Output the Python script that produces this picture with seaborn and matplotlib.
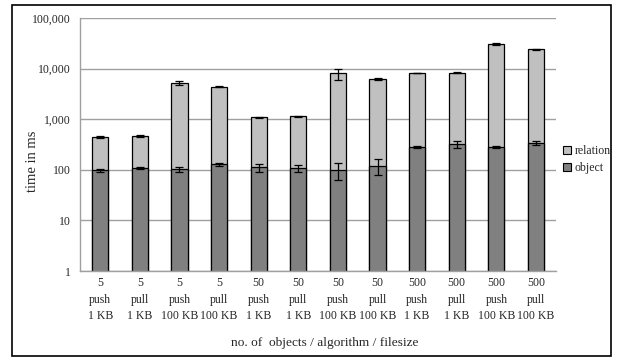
import numpy as np
import matplotlib
matplotlib.use("Agg")
import matplotlib.pyplot as plt
from matplotlib.patches import Patch, Rectangle
import seaborn as sns

counts = ["5", "5", "5", "5", "50", "50", "50", "50", "500", "500", "500", "500"]
algorithms = ["push", "pull"] * 6
filesizes = ["1 KB", "1 KB", "100 KB", "100 KB"] * 3
object_ms = [97, 110, 102, 128, 112, 108, 98, 120, 280, 320, 280, 340]
total_ms = [450, 470, 5200, 4400, 1080, 1130, 8000, 6200, 8200, 8300, 30000, 24000]
relation_ms = [t - o for t, o in zip(total_ms, object_ms)]
object_err = [8, 6, 10, 10, 20, 18, 35, 40, 12, 55, 15, 35]
total_err = [20, 20, 400, 80, 20, 30, 2000, 200, 60, 250, 1500, 500]

labels = [f"{c}\n{a}\n{f}" for c, a, f in zip(counts, algorithms, filesizes)]
x = np.arange(len(labels))

sns.set_style("white")
plt.rcParams["font.family"] = ["Liberation Serif", "DejaVu Serif"]

fig = plt.figure(figsize=(6.28, 3.58), dpi=100)
ax = fig.add_axes([0.128, 0.243, 0.757, 0.707])

light = "#c0c0c0"
dark = "#808080"

# stacked: draw totals first, then object part on top
sns.barplot(x=labels, y=[o + r for o, r in zip(object_ms, relation_ms)], color=light,
            edgecolor="black", linewidth=0.9, width=0.41, ax=ax, saturation=1)
sns.barplot(x=labels, y=object_ms, color=dark,
            edgecolor="black", linewidth=0.9, width=0.41, ax=ax, saturation=1)
ax.errorbar(x, total_ms, yerr=total_err, fmt="none", ecolor="black",
            elinewidth=0.9, capsize=3, capthick=0.9, zorder=5)
ax.errorbar(x, object_ms, yerr=object_err, fmt="none", ecolor="black",
            elinewidth=0.9, capsize=3, capthick=0.9, zorder=5)

ax.set_yscale("log")
ax.set_ylim(1, 100000)
ax.set_xlim(-0.5, len(labels) - 0.5)
ax.set_yticks([1, 10, 100, 1000, 10000, 100000])
ax.set_yticklabels(["1", "10", "100", "1,000", "10,000", "100,000"])
ax.yaxis.set_minor_locator(matplotlib.ticker.NullLocator())
ax.grid(axis="y", which="major", color="#a0a0a0", linewidth=1)
ax.set_axisbelow(True)

for side in ["top", "right"]:
    ax.spines[side].set_visible(False)
for side in ["left", "bottom"]:
    ax.spines[side].set_color("#a0a0a0")
    ax.spines[side].set_linewidth(1)

ax.set_xticks(x)
ax.set_xticklabels(labels, linespacing=1.55, fontsize=8.5)
ax.set_xticks(np.arange(-0.5, len(labels)), minor=True)
ax.tick_params(axis="x", which="major", length=0, pad=4)
ax.tick_params(axis="x", which="minor", length=35, color="#a0a0a0", width=1)
ax.tick_params(axis="y", which="major", length=3, color="#a0a0a0", labelsize=8.5, pad=4)

ax.set_ylabel("")
fig.text(33 / 628, 1 - 161 / 358, "time in ms", rotation=90, ha="center",
         va="center", fontsize=10.5)
ax.set_xlabel("no. of  objects / algorithm / filesize", fontsize=9.6)
ax.xaxis.set_label_coords(0.515, -0.259)

handles = [Patch(facecolor=light, edgecolor="black", linewidth=0.8, label="relation"),
           Patch(facecolor=dark, edgecolor="black", linewidth=0.8, label="object")]
ax.legend(handles=handles, loc="center left", bbox_to_anchor=(1.005, 0.44),
          frameon=False, fontsize=8.5, handlelength=0.7, handleheight=0.7,
          handletextpad=0.3, labelspacing=0.45, borderaxespad=0)

fig.patches.append(Rectangle((12 / 628, 2 / 358), 599 / 628, 351 / 358,
                             transform=fig.transFigure, fill=False,
                             edgecolor="black", linewidth=1.2))

fig.savefig("out.png", dpi=100)
